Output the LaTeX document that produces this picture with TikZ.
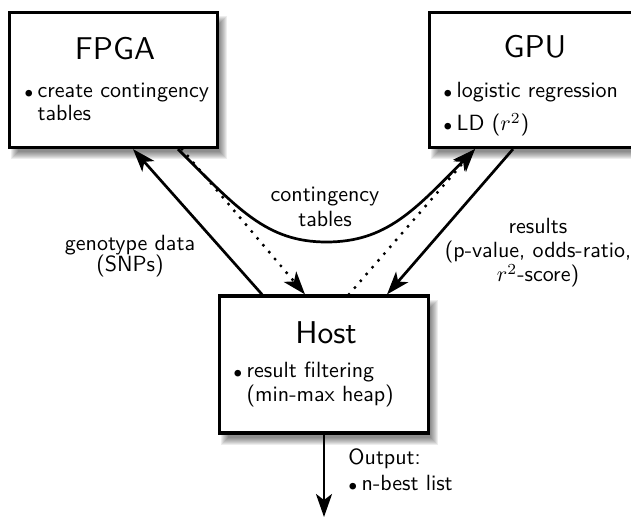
\documentclass[tikz,border=0pt]{standalone}
\usetikzlibrary{arrows.meta}
\renewcommand\familydefault{\sfdefault}
\newcommand\bul{\makebox[0.6em][l]{$\scriptstyle\bullet$}}
\newcommand\hang{\hspace*{0.6em}}
\newcommand\myshadow[4]{%
  \foreach \k in {0,...,7}{%
    \fill[black,opacity=0.07] ({#1+1+\k},{#2+4+\k}) rectangle ({#3+9-\k},{#4+12-\k});}}
\begin{document}
\begin{tikzpicture}[x=1pt,y=-1pt,
  box/.style={draw, line width=3.2pt, fill=white, inner sep=0pt, shape=rectangle},
  arr/.style={line width=2.7pt, -{Stealth[length=23pt,width=16pt,inset=6pt]}},
  dots/.style={arr, line width=3.4pt, line cap=round, dash pattern=on 0pt off 9pt},
  ttl/.style={inner sep=0pt, scale=3.15, font=\sffamily},
  txt/.style={inner sep=0pt, scale=2.2, align=left},
  lbl/.style={inner sep=0pt, scale=2.2, align=center}]
\useasboundingbox (0,0) rectangle (631,518);
\clip (0,0) rectangle (631,518);
% shadows
\myshadow{9.5}{12.5}{217.5}{147.5}
\myshadow{429.5}{12.5}{635.5}{147.5}
\myshadow{219.5}{296}{428.5}{433}
% boxes
\node[box, minimum width=208pt, minimum height=135pt] (fpga) at (113.5,80) {};
\node[box, minimum width=206pt, minimum height=135pt] (gpu) at (532.5,80) {};
\node[box, minimum width=209pt, minimum height=137pt] (host) at (324,364.5) {};
% box texts
\node[ttl, anchor=base] (fpgat) at (115,60) {FPGA};
\node[txt, anchor=base west, font={\fontsize{10}{10.9}\selectfont\sffamily}] (fpgal) at (24,121) {\bul create contingency\\\hang tables};
\node[ttl, anchor=base] (gput) at (535,58) {GPU};
\node[txt, anchor=base west, font={\fontsize{10}{10.9}\selectfont\sffamily}] (gpul) at (443,131) {\bul logistic regression\\[4.5pt]\bul LD ($r^2$)};
\node[ttl, anchor=base] (hostt) at (326,343) {Host};
\node[txt, anchor=base west, font={\fontsize{10}{9.3}\selectfont\sffamily}] (hostl) at (233,401) {\bul result filtering\\\hang (min-max heap)};
% connectors
\coordinate (cmid) at (326.5,242);
\coordinate (outend) at (324,517);
\draw[arr] ([xshift=-62pt]host.north) -- ([xshift=19.5pt]fpga.south);
\draw[dots] ([xshift=68.5pt]fpga.south) -- ([xshift=-19pt]host.north);
\draw[arr] ([xshift=64.5pt]fpga.south) .. controls +(60,60) and +(-60,0) .. (cmid)
  .. controls +(60,0) and +(-60,60.5) .. ([xshift=-57.5pt]gpu.south);
\draw[dots] ([xshift=25pt]host.north) -- ([xshift=-57.5pt]gpu.south);
\draw[arr] ([xshift=-19.5pt]gpu.south) -- ([xshift=63pt]host.north);
\draw[arr] (host.south) -- (outend);
% labels
\node[lbl, anchor=base, font={\fontsize{10}{11.4}\selectfont\sffamily}] (lctab) at (325,227) {contingency\\tables};
\node[lbl, anchor=base, font={\fontsize{10}{9.9}\selectfont\sffamily}] (lgeno) at (130,272) {genotype data\\(SNPs)};
\node[lbl, anchor=base, font={\fontsize{10}{11}\selectfont\sffamily}] (lres) at (538,282) {results\\(p-value, odds-ratio,\\$r^2$-score)};
\node[txt, anchor=base west, font={\fontsize{10}{11.4}\selectfont\sffamily}] (lout) at (348,490) {Output:\\\bul n-best list};
\end{tikzpicture}
\end{document}
